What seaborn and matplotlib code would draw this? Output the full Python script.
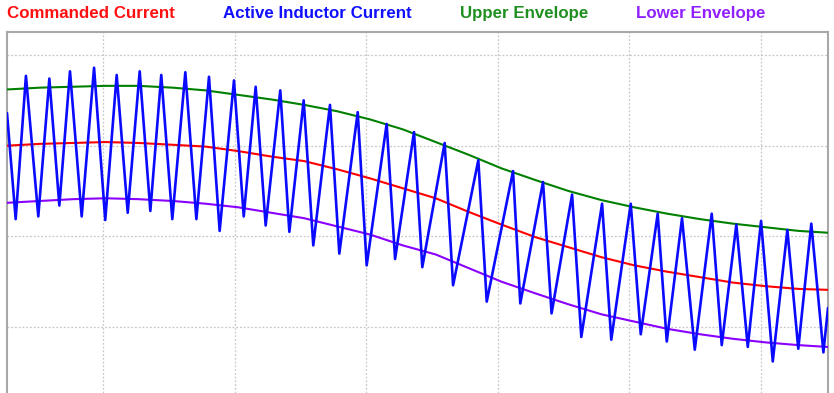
import matplotlib
matplotlib.use("Agg")
import matplotlib.pyplot as plt
import seaborn as sns
import pandas as pd

# ---- data ----
# Envelope / command sample times
t_env = [0.27, 0.52, 0.77, 1.02, 1.27, 1.53, 1.78, 2.03, 2.28, 2.53, 2.78, 3.03,
         3.28, 3.53, 3.78, 4.03, 4.29, 4.54, 4.79, 5.04, 5.29, 5.54, 5.79, 6.04,
         6.29, 6.51]
commanded = [2.00, 2.02, 2.03, 2.04, 2.03, 2.01, 1.99, 1.94, 1.88, 1.83, 1.74, 1.64,
             1.53, 1.42, 1.27, 1.13, 0.99, 0.88, 0.77, 0.68, 0.61, 0.55, 0.49, 0.45,
             0.42, 0.41]
upper_env = [2.62, 2.64, 2.65, 2.66, 2.66, 2.64, 2.61, 2.56, 2.51, 2.45, 2.38, 2.29,
             2.18, 2.04, 1.90, 1.75, 1.62, 1.50, 1.40, 1.32, 1.25, 1.19, 1.14, 1.10,
             1.06, 1.04]
lower_env = [1.37, 1.39, 1.41, 1.42, 1.41, 1.39, 1.36, 1.32, 1.26, 1.20, 1.11, 1.02,
             0.90, 0.80, 0.65, 0.50, 0.37, 0.25, 0.14, 0.06, -0.02, -0.08, -0.13, -0.17,
             -0.20, -0.22]

# Active inductor current: switching vertices (time, current)
t_ind = [0.270, 0.336, 0.414, 0.508, 0.592, 0.668, 0.749, 0.838, 0.932, 1.017,
         1.104, 1.188, 1.279, 1.360, 1.443, 1.527, 1.626, 1.710, 1.806, 1.887,
         1.996, 2.070, 2.161, 2.237, 2.348, 2.417, 2.526, 2.599, 2.726, 2.797,
         2.937, 3.005, 3.157, 3.221, 3.365, 3.428, 3.598, 3.662, 3.854, 3.918,
         4.118, 4.173, 4.346, 4.411, 4.567, 4.637, 4.795, 4.865, 5.013, 5.089,
         5.218, 5.287, 5.403, 5.500, 5.629, 5.705, 5.816, 5.903, 6.004, 6.093,
         6.204, 6.287, 6.386, 6.478, 6.513]
i_ind = [2.36, 1.19, 2.77, 1.22, 2.74, 1.34, 2.82, 1.22, 2.86, 1.18,
         2.78, 1.26, 2.82, 1.28, 2.78, 1.19, 2.81, 1.19, 2.76, 1.06,
         2.72, 1.22, 2.65, 1.12, 2.61, 1.05, 2.50, 0.90, 2.45, 0.81,
         2.37, 0.68, 2.24, 0.75, 2.15, 0.66, 2.03, 0.46, 1.84, 0.28,
         1.72, 0.26, 1.60, 0.15, 1.46, -0.11, 1.36, -0.14, 1.36, -0.08,
         1.25, -0.16, 1.20, -0.25, 1.25, -0.20, 1.13, -0.22, 1.17, -0.38,
         1.07, -0.24, 1.14, -0.28, 0.21]

labels = ["Commanded Current", "Active Inductor Current", "Upper Envelope", "Lower Envelope"]
line_colors = ["#ff0000", "#0a0aff", "#008000", "#8a00ff"]
text_colors = ["#ff1010", "#1010ff", "#1f8f1f", "#9020ff"]

df_env = pd.DataFrame({"t": t_env, "cmd": commanded, "up": upper_env, "lo": lower_env})
df_ind = pd.DataFrame({"t": t_ind, "i": i_ind})

# ---- figure ----
sns.set_theme(style="white")
plt.rcParams["font.family"] = ["Liberation Sans", "DejaVu Sans"]

fig = plt.figure(figsize=(8.34, 3.93), dpi=100)
ax = fig.add_axes([7 / 834, 0.0, 821 / 834, 361 / 393])

sns.lineplot(data=df_env, x="t", y="up", ax=ax, color=line_colors[2], linewidth=1.5, zorder=3)
sns.lineplot(data=df_env, x="t", y="lo", ax=ax, color=line_colors[3], linewidth=1.5, zorder=3)
sns.lineplot(data=df_env, x="t", y="cmd", ax=ax, color=line_colors[0], linewidth=1.5, zorder=3)
sns.lineplot(data=df_ind, x="t", y="i", ax=ax, color=line_colors[1], linewidth=1.9,
             sort=False, zorder=4)

ax.set_xlim(0.27, 6.513)
ax.set_ylim(-0.728, 3.254)
ax.set_xticks([1, 2, 3, 4, 5, 6])
ax.set_yticks([0, 1, 2, 3])
ax.tick_params(length=0, labelbottom=False, labelleft=False)
ax.set_xlabel("")
ax.set_ylabel("")
ax.grid(True, linestyle=(0, (1.5, 1.5)), color="#c8c8c8", linewidth=0.9)
ax.set_axisbelow(True)
for side in ["left", "top", "right"]:
    ax.spines[side].set_color("#a8a8a8")
    ax.spines[side].set_linewidth(1.5)
ax.spines["bottom"].set_visible(False)

# text-only legend row
handles = [plt.Line2D([], [], color=c, linewidth=0) for c in line_colors]
leg = fig.legend(handles, labels, loc="upper left", bbox_to_anchor=(7 / 834, 1 - 6 / 393),
                 ncol=4, frameon=False, handlelength=0, handletextpad=0,
                 columnspacing=2.85, borderaxespad=0, borderpad=0,
                 prop={"weight": "bold", "size": 12.2})
for txt, c in zip(leg.get_texts(), text_colors):
    txt.set_color(c)

fig.savefig("out.png", dpi=100)
